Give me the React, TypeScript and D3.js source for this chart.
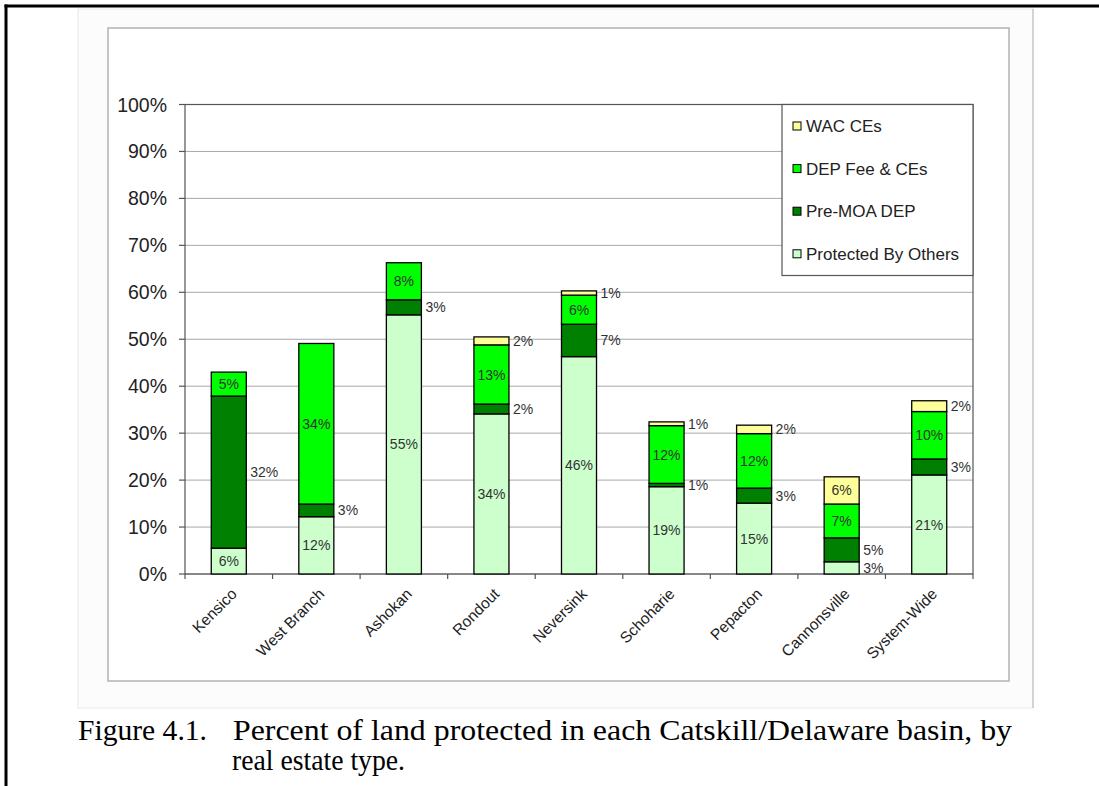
import React from "react";
import * as d3 from "d3";

const categories = ["Kensico", "West Branch", "Ashokan", "Rondout", "Neversink", "Schoharie", "Pepacton", "Cannonsville", "System-Wide"];
const protectedByOthers = [5.5, 12.2, 55.2, 34.1, 46.3, 18.6, 15.1, 2.6, 21.1];
const preMoaDep = [32.4, 2.7, 3.2, 2.1, 6.9, 0.7, 3.2, 5.1, 3.4];
const depFeeCEs = [5.1, 34.2, 7.9, 12.6, 6.2, 12.3, 11.6, 7.2, 10.1];
const wacCEs = [0, 0, 0, 1.7, 0.9, 0.8, 1.8, 5.8, 2.3];
const seriesNames = ["Protected By Others", "Pre-MOA DEP", "DEP Fee & CEs", "WAC CEs"];
const seriesColors = ["#ccffcc", "#008000", "#00ff00", "#ffff99"];
const yTicks = [0, 10, 20, 30, 40, 50, 60, 70, 80, 90, 100];
const captionLine1a = "Figure 4.1.";
const captionLine1b = "Percent of land protected in each Catskill/Delaware basin, by";
const captionLine2 = "real estate type.";

const W = 1099;
const H = 786;
const plot = { left: 185, right: 973, top: 104.5, bottom: 574 };
const legend = { x: 782, y: 104.5, w: 191, h: 171 };
const sans = "'Liberation Sans', Arial, Helvetica, sans-serif";
const serif = "'Liberation Serif', 'Times New Roman', serif";

export default function App() {
  const rows = categories.map((c, i) => ({
    cat: c,
    [seriesNames[0]]: protectedByOthers[i],
    [seriesNames[1]]: preMoaDep[i],
    [seriesNames[2]]: depFeeCEs[i],
    [seriesNames[3]]: wacCEs[i],
  }));
  const stacked = d3.stack<any>().keys(seriesNames)(rows as any);

  const x = d3.scaleBand<string>().domain(categories).range([plot.left, plot.right]).paddingInner(0.6).paddingOuter(0.3);
  const y = d3.scaleLinear().domain([0, 100]).range([plot.bottom, plot.top]);
  const step = x.step();
  const boundaries = d3.range(categories.length + 1).map((i) => plot.left + i * step);

  return (
    <svg width={W} height={H} style={{ position: "absolute", left: 0, top: 0, background: "#fff" }}>
      <rect x={0} y={0} width={W} height={H} fill="#fff" />
      {/* faint scan frame */}
      <rect x={78} y={9} width={955} height={699} fill="#fcfcfc" stroke="#e8e8e8" strokeWidth={1} />
      <line x1={1033} x2={1033} y1={9} y2={708} stroke="#b5b5b5" strokeWidth={1} />
      {/* chart frame */}
      <rect x={108} y={28} width={901} height={653} fill="#fff" stroke="#b3b3b3" strokeWidth={1.5} />
      {/* black page border */}
      <line x1={4.5} x2={W} y1={6} y2={6} stroke="#000" strokeWidth={3} />
      <line x1={6} x2={6} y1={4.5} y2={H} stroke="#000" strokeWidth={3} />

      {/* gridlines */}
      {yTicks.map((t) => (
        <line key={"g" + t} x1={plot.left} x2={plot.right} y1={y(t)} y2={y(t)} stroke="#a8a8a8" strokeWidth={1} />
      ))}
      {/* plot border */}
      <rect x={plot.left} y={plot.top} width={plot.right - plot.left} height={plot.bottom - plot.top} fill="none" stroke="#555" strokeWidth={1.2} />

      {/* legend box */}
      <rect x={legend.x} y={legend.y} width={legend.w} height={legend.h} fill="#fff" stroke="#555" strokeWidth={1.2} />
      {seriesNames
        .slice()
        .reverse()
        .map((name, i) => {
          const idx = seriesNames.indexOf(name);
          const cy = 126 + i * 42.6;
          return (
            <g key={name}>
              <rect x={793} y={cy - 4} width={8} height={8} fill={seriesColors[idx]} stroke="#000" strokeWidth={1} />
              <text x={806} y={cy} dy="0.36em" fontFamily={sans} fontSize={17} fill="#222">
                {name}
              </text>
            </g>
          );
        })}

      {/* bars */}
      {stacked.map((s, si) => (
        <g key={s.key}>
          {s.map((d: any, i: number) => {
            const v = d[1] - d[0];
            if (v <= 0) return null;
            return (
              <rect
                key={i}
                x={x(categories[i])!}
                y={y(d[1])}
                width={x.bandwidth()}
                height={y(d[0]) - y(d[1])}
                fill={seriesColors[si]}
                stroke="#000"
                strokeWidth={1.3}
              />
            );
          })}
        </g>
      ))}

      {/* data labels */}
      {stacked.map((s, si) => (
        <g key={"l" + s.key}>
          {s.map((d: any, i: number) => {
            const v = d[1] - d[0];
            if (v <= 0) return null;
            const outside = s.key === "Pre-MOA DEP" || v < 4;
            const cy = y((d[0] + d[1]) / 2);
            const bx = x(categories[i])!;
            return (
              <text
                key={i}
                x={outside ? bx + x.bandwidth() + 4 : bx + x.bandwidth() / 2}
                y={cy}
                dy="0.36em"
                textAnchor={outside ? "start" : "middle"}
                fontFamily={sans}
                fontSize={14}
                fill="#333"
              >
                {Math.round(v) + "%"}
              </text>
            );
          })}
        </g>
      ))}

      {/* y axis ticks & labels */}
      {yTicks.map((t) => (
        <g key={"y" + t}>
          <line x1={plot.left - 6} x2={plot.left} y1={y(t)} y2={y(t)} stroke="#555" strokeWidth={1.2} />
          <text x={167} y={y(t)} dy="0.36em" textAnchor="end" fontFamily={sans} fontSize={19.5} fill="#222">
            {t + "%"}
          </text>
        </g>
      ))}
      {/* x axis ticks */}
      {boundaries.map((bx, i) => (
        <line key={"xt" + i} x1={bx} x2={bx} y1={plot.bottom} y2={plot.bottom + 5} stroke="#555" strokeWidth={1.2} />
      ))}
      {/* x labels */}
      {categories.map((c) => {
        const cx = x(c)! + x.bandwidth() / 2;
        return (
          <text
            key={"xl" + c}
            transform={`translate(${cx + 5},${591}) rotate(-45)`}
            textAnchor="end"
            dy="0.36em"
            fontFamily={sans}
            fontSize={15.5}
            fill="#222"
          >
            {c}
          </text>
        );
      })}

      {/* caption */}
      <text x={78} y={740} fontFamily={serif} fontSize={29} fill="#000" textLength={129} lengthAdjust="spacingAndGlyphs">
        {captionLine1a}
      </text>
      <text x={233} y={740} fontFamily={serif} fontSize={29} fill="#000" textLength={779} lengthAdjust="spacingAndGlyphs">
        {captionLine1b}
      </text>
      <text x={232} y={770} fontFamily={serif} fontSize={29} fill="#000" textLength={173} lengthAdjust="spacingAndGlyphs">
        {captionLine2}
      </text>
    </svg>
  );
}
